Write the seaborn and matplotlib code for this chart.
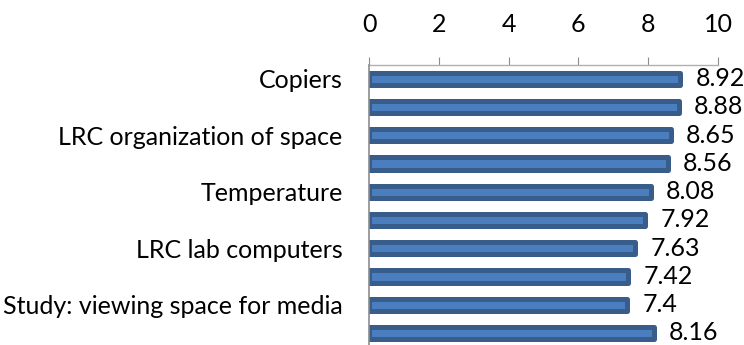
import matplotlib
matplotlib.use("Agg")
import matplotlib.pyplot as plt
import seaborn as sns
import pandas as pd
import numpy as np

# Satisfaction scores (0-10) for each service item, top to bottom
labels = ["Copiers", "", "LRC organization of space", "", "Temperature",
          "", "LRC lab computers", "", "Study: viewing space for media", ""]
scores = [8.92, 8.88, 8.65, 8.56, 8.08, 7.92, 7.63, 7.42, 7.4, 8.16]
x_ticks = [0, 2, 4, 6, 8, 10]

sns.set_theme(style="white")
plt.rcParams["font.family"] = ["Lato", "DejaVu Sans"]
FS = 18

df = pd.DataFrame({"item": list(range(len(scores))), "score": scores})

fig = plt.figure(figsize=(7.44, 3.45), dpi=100)
ax = fig.add_axes([0.496, -0.0061, 0.469, 0.8188])

sns.barplot(data=df, y="item", x="score", orient="h", width=0.44,
            color="#4A7EBF", edgecolor="#385D8A", linewidth=3.6,
            saturation=1, ax=ax)
for p in ax.patches:
    p.set_joinstyle("round")
    p.set_zorder(2)

ax.set_xlim(0, 10)
ax.set_ylim(len(scores) - 0.5, -0.5)
ax.set_xlabel("")
ax.set_ylabel("")

# value axis along the top
ax.xaxis.tick_top()
ax.set_xticks(x_ticks)
ax.set_xticklabels([str(t) for t in x_ticks], fontsize=FS)
ax.tick_params(axis="x", which="major", direction="out", length=5.8, width=0.8,
               color="#8c8c8c", pad=15, labelcolor="black")

# category labels, with tick marks between categories
ax.set_yticks(range(len(scores)))
ax.set_yticklabels(labels, fontsize=FS)
ax.set_yticks(np.arange(-0.5, len(scores), 1.0), minor=True)
ax.tick_params(axis="y", which="major", length=0, pad=19, labelcolor="black")
ax.tick_params(axis="y", which="minor", direction="out", length=6.5, width=0.8,
               color="#8c8c8c")

for side in ["right", "bottom"]:
    ax.spines[side].set_visible(False)
ax.spines["top"].set_color("#b0b0b0")
ax.spines["top"].set_linewidth(1.0)
ax.spines["left"].set_color("#8c8c8c")
ax.spines["left"].set_linewidth(1.2)
ax.spines["left"].set_zorder(3)
ax.grid(False)

ax.bar_label(ax.containers[0], fmt="%g", padding=11, fontsize=FS, color="black")

fig.savefig("out.png", dpi=100)
